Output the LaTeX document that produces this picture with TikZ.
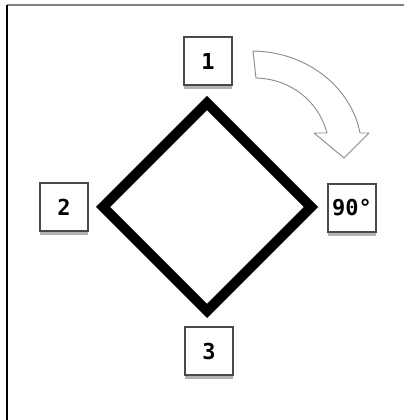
\documentclass[tikz,border=0pt]{standalone}
\usepackage{fontspec}
\newfontfamily\labelfont{DejaVu Sans Mono}
\usepackage{xcolor}
\usepackage{tikz}
\usetikzlibrary{positioning,shapes.geometric,shadows}
\definecolor{boxrim}{HTML}{4A4A4A}
\definecolor{arrowrim}{HTML}{8A8A8A}
\tikzset{
  labelbox/.style={draw=boxrim, line width=2pt, fill=white, minimum size=48pt, inner sep=0pt,
    font=\labelfont\bfseries\fontsize{22}{24}\selectfont,
    drop shadow={shadow xshift=0pt, shadow yshift=-4pt, opacity=0.3, fill=black}},
  square/.style={diamond, draw, line width=10pt, miter limit=10, minimum width=212pt, minimum height=212pt, inner sep=0pt},
  turnarrow/.style={draw=arrowrim, line width=0.9pt, fill=white, line join=round}
}

\begin{document}
\begin{tikzpicture}[x=1pt, y=1pt]
    \useasboundingbox (0,0) rectangle (404,420);
    % frame
    \draw[gray, line width=1.5pt] (7,415) -- (404,415);
    \draw[black, line width=1.5pt] (7,415) -- (7,0);
    % rotated square
    \node[square] (sq) at (207,213) {};
    % corner labels
    \node[labelbox] (one) at (208,359) {1};
    \node[labelbox] (two) at (64,213) {2};
    \node[labelbox] (deg) at (352,212) {90°};
    \node[labelbox] (three) at (209,69) {3};
    % rotation arrow
    \path[turnarrow] (253,369) .. controls (310,368) and (352,330) .. (360,287)
      -- (369,287) -- (344,262) -- (314,287) -- (327,287)
      .. controls (318,320) and (290,341) .. (256,342) -- cycle;
  \end{tikzpicture}
\end{document}
